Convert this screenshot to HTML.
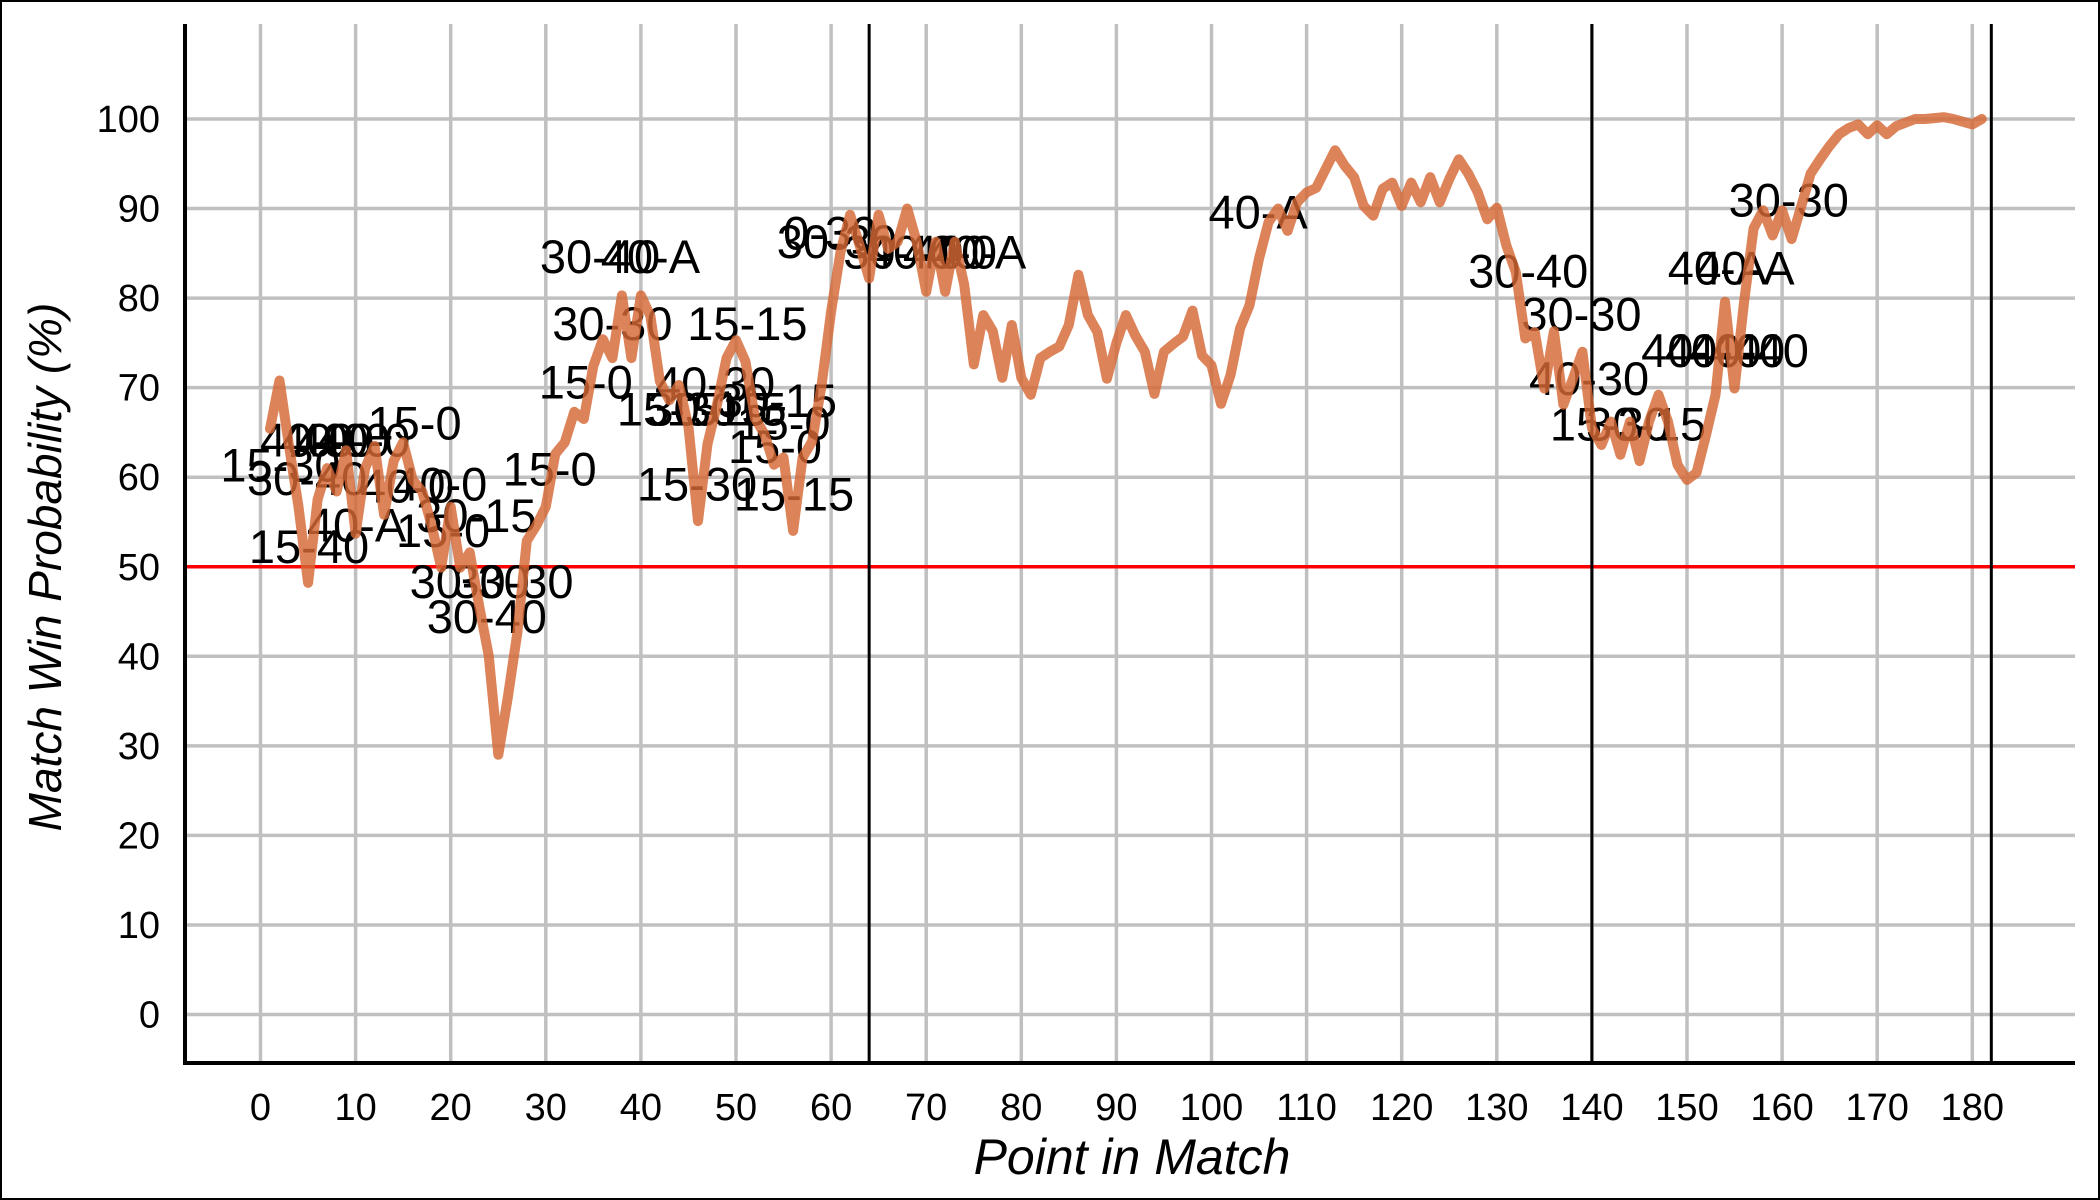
<!DOCTYPE html>
<html><head><meta charset="utf-8"><style>
html,body{margin:0;padding:0;background:#fff;}
svg{display:block;font-family:"Liberation Sans",Arial,sans-serif;}
</style></head><body>
<svg id="chart" width="2100" height="1200" viewBox="0 0 2100 1200" xmlns="http://www.w3.org/2000/svg">
<rect x="1" y="1" width="2098" height="1198" fill="#fff" stroke="#000" stroke-width="2"/>
<g id="grid"></g>
<g id="ticks"></g>
<g id="labels"></g>
<g id="series"></g>
<text x="1132" y="1174" font-size="50" font-style="italic" text-anchor="middle">Point in Match</text>
<text transform="translate(61,567) rotate(-90)" font-size="46" font-style="italic" text-anchor="middle">Match Win Probability (%)</text>
</svg>
<script>
const xTicks = [0,10,20,30,40,50,60,70,80,90,100,110,120,130,140,150,160,170,180];
const yTicks = [0,10,20,30,40,50,60,70,80,90,100];
const setBreaks = [64,140,182];
const refLevel = 50;
const winProb = [65.4,70.8,63.5,56.7,48.2,57.5,61,58.4,63,53.7,61,63.5,55.8,61.8,63.9,59.7,58.4,54.6,49.9,56.7,
49.9,51.6,45.6,40.1,29,35.4,42.6,52.9,54.6,56.7,62.6,63.9,67.3,66.5,72.4,75.4,73.3,80.3,73.3,80.3,
78,70.7,68.6,70.3,65.6,55.1,63.7,68.1,73.3,75.3,72.9,66.6,64.8,61.4,62.2,54,62.2,64,70.3,78.5,
85.2,89.3,85.9,82.2,89.3,85.5,86.3,90,86.3,80.7,86.3,80.7,86.3,81.5,72.6,78.1,76.3,71.1,77,71.1,
69.2,73.3,74,74.6,77,82.6,78.1,76.2,71,75,78.1,75.8,74,69.3,74,74.9,75.7,78.6,73.6,72.5,
68.2,71.4,76.6,79.2,84.4,88.5,90,87.5,90.7,91.8,92.3,94.4,96.5,94.8,93.5,90.3,89.2,92.2,92.9,90.3,
92.9,90.7,93.5,90.7,93.3,95.5,93.9,91.8,88.8,90.1,85.9,82.9,75.5,76.2,69.9,76.3,68.1,71,74,65.5,
63.6,66.2,62.5,66.2,61.8,66.2,69.2,66.2,61.4,59.7,60.5,64.7,69.2,79.6,69.9,79.6,87.8,89.8,87,89.8,
86.6,90.2,93.9,95.5,97,98.3,99,99.4,98.3,99.3,98.3,99.2,99.6,100,100,100.1,100.2,100,99.7,99.4,100];
const labelText = ["15-40","15-0","40-0","40-0","40-0","40-0","15-30","30-40","40-0","40-0","40-A","15-0","30-15","30-30","30-30","30-40","15-0",
"30-40","40-A","30-30","15-15","15-0","40-30","15-30","30-15","15-15","30-15","15-0","15-0","15-30","15-15",
"0-30","30-30","30-40","40-40","40-0","40-A","40-A","30-40","30-30","40-30","15-30","30-15","40-A","40-A","40-40","40-40","40-40","30-30"];
const labelPoint = [5.1,16.2,4.9,7,8.7,10.8,2.1,4.9,15.4,18.9,10.1,19.2,22.7,22,26.6,23.8,30.4,
35.7,41,37,51.2,34.2,47.8,43.8,47,49,54.3,55,54.1,45.9,56.1,
59.9,60.6,67.6,70.1,72.5,75.3,104.9,133.3,138.9,139.7,141.9,145.7,153.2,156.1,151.5,154,156.5,160.7];
const labelValue = [50.4,64.2,62.3,62.3,62.3,62.3,59.5,58,57.2,57.4,52.8,52.2,53.9,46.5,46.5,42.6,59.1,
82.8,82.8,75.3,75.3,68.8,68.6,65.8,65.8,65.8,66.7,64.2,61.6,57.4,56.3,
85.4,84.5,83.3,83.3,83.3,83.3,87.8,81.2,76.4,69.2,64.1,64.1,81.5,81.5,72.3,72.3,72.3,89.1];

const NS="http://www.w3.org/2000/svg";
const X0=185, X1=2075, Y0=24, Y1=1063;
const xs = p => 260.5 + p*9.51;
const ys = v => 1014.5 - v*8.955;
function mk(tag, attrs, parent){const e=document.createElementNS(NS,tag);for(const k in attrs)e.setAttribute(k,attrs[k]);parent.appendChild(e);return e;}
const grid=document.getElementById('grid'), ticks=document.getElementById('ticks'), labels=document.getElementById('labels'), series=document.getElementById('series');

xTicks.forEach(t=>{
  const l=mk('line',{x1:xs(t),x2:xs(t),y1:Y0,y2:Y1,stroke:'#c0c0c0','stroke-width':3.5},grid);
  
  
  const tx=mk('text',{x:xs(t),y:1120,'font-size':38,'text-anchor':'middle'},ticks);
  tx.textContent=t;
  
  
});
yTicks.forEach(t=>{
  const l=mk('line',{x1:X0,x2:X1,y1:ys(t),y2:ys(t),stroke:'#c0c0c0','stroke-width':3.5},grid);
  
  
  const tx=mk('text',{x:160,y:ys(t)+13,'font-size':38,'text-anchor':'end'},ticks);
  tx.textContent=t;
  
  
});
const ref=mk('line',{x1:X0,x2:X1,y1:ys(refLevel),y2:ys(refLevel),stroke:'#ff0000','stroke-width':3.5},grid);


setBreaks.forEach(b=>{
  const l=mk('line',{x1:xs(b),x2:xs(b),y1:Y0,y2:Y1,stroke:'#000','stroke-width':3},grid);
  
  
});
const ya=mk('line',{x1:X0,x2:X0,y1:Y0,y2:Y1+2,stroke:'#000','stroke-width':4},grid);


const xa=mk('line',{x1:X0-2,x2:X1,y1:Y1,y2:Y1,stroke:'#000','stroke-width':4},grid);



labelText.forEach((t,i)=>{
  const tx=mk('text',{x:xs(labelPoint[i]),y:ys(labelValue[i]),'font-size':47,'text-anchor':'middle'},labels);
  tx.textContent=t;
  
  
});

const d=winProb.map((v,i)=>(i?'L':'M')+xs(i+1).toFixed(1)+' '+ys(v).toFixed(1)).join(' ');
const path=mk('path',{d:d,fill:'none',stroke:'rgb(214,104,52)','stroke-opacity':0.82,'stroke-width':10,'stroke-linejoin':'round','stroke-linecap':'round'},series);


</script>
</body></html>
